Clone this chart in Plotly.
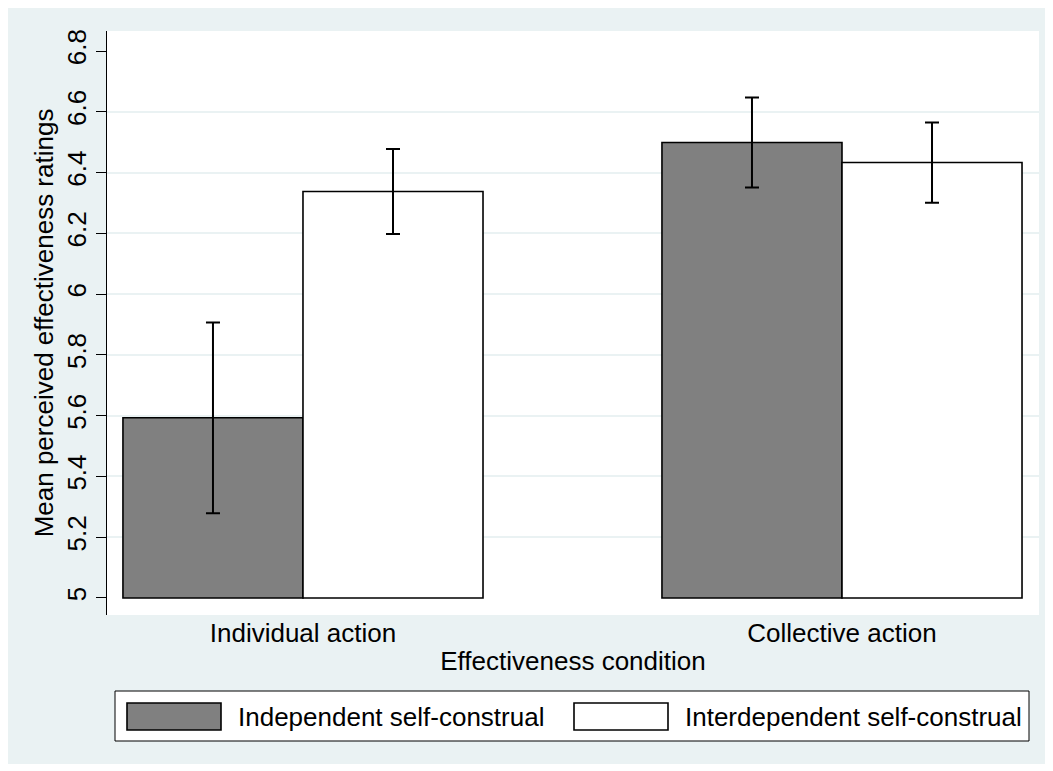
import plotly.graph_objects as go

categories = ["Individual action", "Collective action"]
series_names = ["Independent self-construal", "Interdependent self-construal"]
independent_means = [5.593, 6.499]
independent_err = [0.314, 0.148]
interdependent_means = [6.338, 6.433]
interdependent_err = [0.140, 0.132]
y_ticks = [5, 5.2, 5.4, 5.6, 5.8, 6, 6.2, 6.4, 6.6, 6.8]
y_tick_text = ["5", "5.2", "5.4", "5.6", "5.8", "6", "6.2", "6.4", "6.6", "6.8"]
grid_ticks = [5.2, 5.4, 5.6, 5.8, 6, 6.2, 6.4, 6.6]

OFF = 8  # browser body margin
W, H = 1053 - OFF, 771 - OFF
ML, MT = 107 - OFF, 31 - OFF
MR = W - (1039 - OFF)
MB = H - (615 - OFF)
PW, PH = W - ML - MR, H - MT - MB
BG = "#EAF2F3"
FONT = "Liberation Sans, Arial, Helvetica, sans-serif"
fill_colors = ["#808080", "#FFFFFF"]


def px_to_paper_x(px):
    return (px - OFF - ML) / PW


def px_to_paper_y(py):
    return (H - MB - (py - OFF)) / PH


fig = go.Figure()
for name, means, errs, col in [
    (series_names[0], independent_means, independent_err, fill_colors[0]),
    (series_names[1], interdependent_means, interdependent_err, fill_colors[1]),
]:
    fig.add_trace(go.Bar(
        x=categories, y=[m - 5 for m in means], base=5, name=name,
        marker=dict(color=col, line=dict(color="black", width=1.6)),
        error_y=dict(type="data", array=errs, visible=True, color="black",
                     thickness=2, width=7),
        showlegend=False,
    ))

# invisible helper trace for grid axis
fig.add_trace(go.Scatter(x=[categories[0]], y=[5], yaxis="y2", mode="markers",
                         marker=dict(opacity=0), showlegend=False, hoverinfo="skip"))

yr = [4.944, 6.866]

shapes = [
    dict(type="rect", xref="paper", yref="paper", layer="below",
         x0=px_to_paper_x(7), x1=px_to_paper_x(1046),
         y0=px_to_paper_y(764), y1=px_to_paper_y(7),
         fillcolor=BG, line=dict(width=0)),
    dict(type="rect", xref="paper", yref="paper", layer="below",
         x0=0, x1=1, y0=0, y1=1, fillcolor="white", line=dict(width=0)),
    # legend box
    dict(type="rect", xref="paper", yref="paper", layer="above",
         x0=px_to_paper_x(115), x1=px_to_paper_x(1029),
         y0=px_to_paper_y(741), y1=px_to_paper_y(691),
         fillcolor="white", line=dict(color="black", width=1)),
]
annotations = []
legend_items = [(127, 221, 236), (574, 668, 683)]
for (sx0, sx1, tx), name, col in zip(legend_items, series_names, fill_colors):
    shapes.append(dict(type="rect", xref="paper", yref="paper", layer="above",
                       x0=px_to_paper_x(sx0), x1=px_to_paper_x(sx1),
                       y0=px_to_paper_y(730), y1=px_to_paper_y(703),
                       fillcolor=col, line=dict(color="black", width=1.6)))
    annotations.append(dict(xref="paper", yref="paper", x=px_to_paper_x(tx),
                            y=px_to_paper_y(717), xanchor="left", yanchor="middle",
                            text=name, showarrow=False,
                            font=dict(size=26, color="black", family=FONT)))

fig.update_layout(
    width=W, height=H,
    margin=dict(l=ML, r=MR, t=MT, b=MB),
    paper_bgcolor="white", plot_bgcolor="white",
    barmode="group", bargap=0.332, bargroupgap=0,
    font=dict(family=FONT, size=26, color="black"),
    shapes=shapes, annotations=annotations,
    xaxis=dict(range=[-0.3636, 1.3655], showline=False, ticks="",
               showgrid=False, zeroline=False, tickfont=dict(size=26),
               title=dict(text="Effectiveness condition", font=dict(size=26), standoff=4),
               ticklabelstandoff=0),
    yaxis=dict(range=yr, tickvals=y_ticks, ticktext=y_tick_text, tickangle=-90,
               showline=True, linecolor="black", linewidth=1.2,
               ticks="outside", ticklen=10, tickcolor="black", tickwidth=1.2,
               showgrid=False, zeroline=False, tickfont=dict(size=26),
               title=dict(text="Mean perceived effectiveness ratings",
                          font=dict(size=26), standoff=0)),
    yaxis2=dict(range=yr, overlaying="y", tickvals=grid_ticks, showgrid=True,
                gridcolor=BG, gridwidth=1.5, showticklabels=False, ticks="",
                zeroline=False, showline=False, layer="below traces"),
)

fig.write_html("out.html")
